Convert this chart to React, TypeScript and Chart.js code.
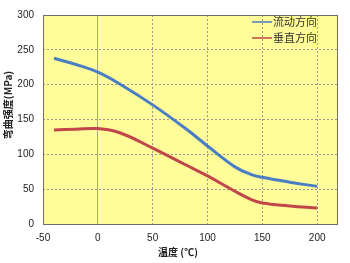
import React, { useEffect, useRef } from "react";
import { Chart, registerables } from "chart.js";

Chart.register(...registerables);

const temps = [-40, -20, 0, 20, 50, 80, 100, 125, 140, 150, 175, 200];
const flowValues = [238, 229, 218, 201, 171, 137, 112, 82, 71, 67, 60, 54];
const perpValues = [135, 136, 137, 131, 109, 85, 69, 47, 35, 30, 26, 23];
const seriesNames = ["流动方向", "垂直方向"];
const xTicks = [-50, 0, 50, 100, 150, 200];
const yTicks = [0, 50, 100, 150, 200, 250, 300];
const xTitle = "温度 (℃)";
const yTitle = "弯曲强度(MPa)";

const FONT = "'Liberation Sans', 'Noto Sans CJK SC', sans-serif";
const CJK = "'Noto Sans CJK SC', sans-serif";
const BLUE = "#4A7EC4";
const RED = "#C0464A";

const bgPlugin = {
  id: "areaBg",
  beforeDraw(chart: any) {
    const { ctx, chartArea: a } = chart;
    ctx.save();
    ctx.fillStyle = "#ffffff";
    ctx.fillRect(0, 0, chart.width, chart.height);
    ctx.fillStyle = "#FFFC99";
    ctx.fillRect(a.left, a.top, a.right - a.left, a.bottom - a.top);
    ctx.restore();
  },
  afterDraw(chart: any) {
    const { ctx, chartArea: a } = chart;
    ctx.save();
    ctx.strokeStyle = "#6e6e6e";
    ctx.lineWidth = 1;
    ctx.strokeRect(a.left + 0.5, a.top + 0.5, a.right - a.left - 1, a.bottom - a.top);
    // legend
    const items = [
      { label: seriesNames[0], color: BLUE, y: 22 },
      { label: seriesNames[1], color: RED, y: 38 },
    ];
    ctx.font = `11px ${CJK}`;
    ctx.textBaseline = "middle";
    ctx.textAlign = "left";
    ctx.fillStyle = "#333";
    items.forEach((it) => {
      ctx.strokeStyle = it.color;
      ctx.lineWidth = 1.5;
      ctx.beginPath();
      ctx.moveTo(252, it.y);
      ctx.lineTo(272, it.y);
      ctx.stroke();
      ctx.fillText(it.label, 273, it.y);
    });
    // axis titles
    ctx.fillStyle = "#222";
    ctx.font = `bold 10px ${CJK}`;
    ctx.textAlign = "center";
    ctx.fillText(xTitle, 178, 252);
    ctx.save();
    ctx.translate(8, 105);
    ctx.rotate(-Math.PI / 2);
    ctx.fillText(yTitle, 0, 0);
    ctx.restore();
    ctx.restore();
  },
};

export default function App() {
  const ref = useRef<HTMLCanvasElement>(null);
  useEffect(() => {
    const chart = new Chart(ref.current!, {
      type: "line",
      data: {
        datasets: [
          {
            label: seriesNames[0],
            data: temps.map((t, i) => ({ x: t, y: flowValues[i] })),
            borderColor: BLUE,
            borderWidth: 3,
            pointRadius: 0,
            tension: 0.4,
          },
          {
            label: seriesNames[1],
            data: temps.map((t, i) => ({ x: t, y: perpValues[i] })),
            borderColor: RED,
            borderWidth: 3,
            pointRadius: 0,
            tension: 0.4,
          },
        ],
      },
      options: {
        animation: false,
        responsive: false,
        layout: { padding: { top: 8, right: 12, left: 0, bottom: 0 } },
        plugins: { legend: { display: false }, tooltip: { enabled: false } },
        scales: {
          x: {
            type: "linear",
            min: -50,
            max: 219,
            afterBuildTicks: (axis: any) => {
              axis.ticks = xTicks.map((v) => ({ value: v }));
            },
            afterFit: (axis: any) => {
              axis.height = 39;
            },
            grid: {
              drawTicks: false,
              color: (c: any) => (c.tick && c.tick.value === 0 ? "#a8a890" : "#9a9a9a"),
              lineWidth: 1,
            },
            border: {
              display: false,
              dash: (c: any) => (c.tick && c.tick.value === 0 ? [] : [2, 2]),
            },
            ticks: {
              padding: 8,
              color: "#222",
              font: { family: FONT, size: 10 },
              maxRotation: 0,
            },
            title: { display: false },
          },
          y: {
            min: 0,
            max: 300,
            afterBuildTicks: (axis: any) => {
              axis.ticks = yTicks.map((v) => ({ value: v }));
            },
            afterFit: (axis: any) => {
              axis.width = 43;
            },
            grid: {
              drawTicks: false,
              color: "#9a9a9a",
              lineWidth: 1,
            },
            border: { display: false, dash: [2, 2] },
            ticks: {
              padding: 9,
              color: "#222",
              font: { family: FONT, size: 10 },
            },
            title: { display: false },
          },
        },
      },
      plugins: [bgPlugin],
    } as any);
    return () => chart.destroy();
  }, []);
  return (
    <div style={{ position: "fixed", left: 0, top: 0, width: 350, height: 263 }}>
      <canvas ref={ref} width={350} height={263} style={{ display: "block" }} />
    </div>
  );
}
